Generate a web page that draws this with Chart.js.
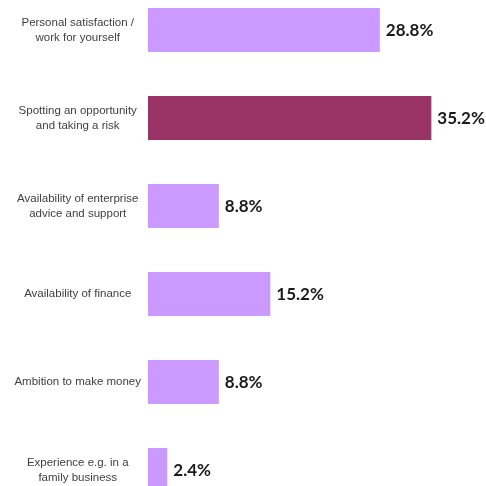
<!DOCTYPE html>
<html>
<head>
<meta charset="utf-8">
<script src="https://cdn.jsdelivr.net/npm/chart.js@4/dist/chart.umd.min.js"></script>
<style>
    html, body { margin: 0; padding: 0; background: #fff; overflow: hidden; }
    #reasonsChart { display: block; margin-top: -14px; }
</style>
</head>
<body>
<canvas id="reasonsChart" width="486" height="528"></canvas>
<script>
const categories = [
    ['Personal satisfaction /', 'work for yourself'],
    ['Spotting an opportunity', 'and taking a risk'],
    ['Availability of enterprise', 'advice and support'],
    'Availability of finance',
    'Ambition to make money',
    ['Experience e.g. in a', 'family business'],
];
const shares = [28.8, 35.2, 8.8, 15.2, 8.8, 2.4];
const highlighted = 1;

const barColors = shares.map((v, i) => i === highlighted ? '#993366' : '#cc99ff');

// percentage text at the end of each bar
const valueLabels = {
    id: 'valueLabels',
    afterDatasetsDraw(chart) {
        const ctx = chart.ctx;
        const meta = chart.getDatasetMeta(0);
        ctx.save();
        ctx.font = 'bold 17px Lato, "DejaVu Sans", sans-serif';
        ctx.fillStyle = '#1a1a1a';
        ctx.textAlign = 'left';
        ctx.textBaseline = 'middle';
        meta.data.forEach((bar, i) => {
            ctx.fillText(shares[i].toFixed(1) + '%', bar.x + 6, bar.y + 1);
        });
        ctx.restore();
    }
};

const ctx = document.getElementById('reasonsChart').getContext('2d');
new Chart(ctx, {
    type: 'bar',
    data: {
        labels: categories,
        datasets: [{
            data: shares,
            backgroundColor: barColors,
            borderWidth: 0,
            barPercentage: 0.5,
            categoryPercentage: 1,
        }]
    },
    options: {
        indexAxis: 'y',
        responsive: false,
        animation: false,
        layout: {
            padding: { left: 0, right: 16, top: 0, bottom: 0 }
        },
        plugins: {
            legend: { display: false },
            tooltip: { enabled: false },
        },
        scales: {
            x: {
                display: false,
                min: 0,
                max: 40,
            },
            y: {
                grid: { display: false, drawTicks: false },
                border: { display: false },
                afterFit(scale) {
                    // fixed label column, bars use the full height
                    scale.width = 148;
                    scale.paddingTop = 0;
                    scale.paddingBottom = 0;
                },
                ticks: {
                    crossAlign: 'center',
                    padding: 7,
                    color: '#3f3f3f',
                    font: { size: 11.5, family: '"Liberation Sans", Arial, sans-serif', lineHeight: 1.3 },
                }
            }
        }
    },
    plugins: [valueLabels]
});
</script>
</body>
</html>
